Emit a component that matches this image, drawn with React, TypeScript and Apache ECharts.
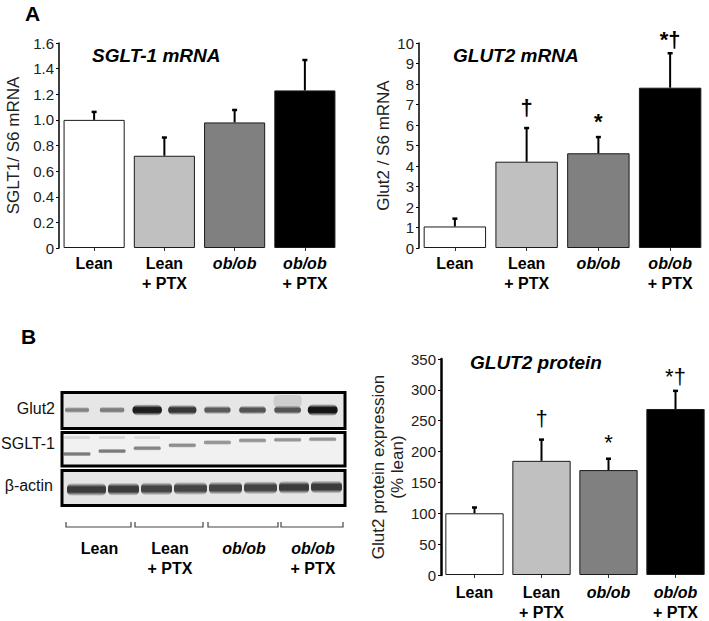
import React, { useEffect, useRef } from 'react';
import * as echarts from 'echarts';

// ---------- data ----------
const categories = ['Lean', 'Lean\n+ PTX', 'ob/ob', 'ob/ob\n+ PTX'];
const barColors = ['#ffffff', '#c0c0c0', '#808080', '#000000'];

const sgltMean = [1.0, 0.72, 0.98, 1.23];
const sgltErr = [0.07, 0.15, 0.105, 0.245];

const glut2Mean = [1.05, 4.21, 4.62, 7.82];
const glut2Err = [0.43, 1.69, 0.84, 1.73];
const glut2Marks = ['', '†', '*', '*†'];

const protMean = [100, 185, 170, 269];
const protErr = [11, 36, 20, 31];
const protMarks = ['', '†', '*', '*†'];

// western blot relative band intensities (8 lanes, 2 per group)
const glut2Band = [0.25, 0.3, 0.95, 0.8, 0.55, 0.6, 0.6, 1.0];
const sgltBand = [0.65, 0.65, 0.6, 0.55, 0.5, 0.5, 0.5, 0.5];
const sgltUpperBand = [0.18, 0.18, 0.15, 0, 0, 0, 0, 0];
const actinBand = [0.95, 0.95, 0.9, 0.9, 0.9, 0.9, 0.95, 0.95];
const blotRows = ['Glut2', 'SGLT-1', 'β-actin'];

const FONT = '"Liberation Sans", Arial, Helvetica, sans-serif';

const catLabel = (v: string) =>
  v
    .split('\n')
    .map((s) => (s.startsWith('ob/ob') ? `{i|${s}}` : `{b|${s}}`))
    .join('\n');

const richCat = {
  b: { fontSize: 16, fontWeight: 'bold', fontFamily: FONT, color: '#000', lineHeight: 20 },
  i: { fontSize: 16, fontWeight: 'bold', fontStyle: 'italic', fontFamily: FONT, color: '#000', lineHeight: 20 },
};

function makeXAxis(gridIndex: number, margin: number) {
  return {
    type: 'category',
    gridIndex,
    data: categories,
    axisLine: { show: false },
    axisTick: { show: true, alignWithLabel: true, length: 3, lineStyle: { color: '#333', width: 1 } },
    axisLabel: { interval: 0, margin, formatter: catLabel, rich: richCat },
    splitLine: { show: false },
  };
}

function makeYAxis(
  gridIndex: number,
  max: number,
  interval: number,
  name: string,
  nameGap: number,
  lineWidth: number,
  fmt: (v: number) => string,
  nameFontSize: number,
  nameLineHeight?: number
) {
  return {
    type: 'value',
    gridIndex,
    min: 0,
    max,
    interval,
    name,
    nameLocation: 'middle',
    nameRotate: 90,
    nameGap,
    nameTextStyle: { fontSize: nameFontSize, fontFamily: FONT, color: '#222', lineHeight: nameLineHeight },
    axisLine: { show: true, lineStyle: { color: '#000', width: lineWidth } },
    axisTick: { show: true, length: 3, lineStyle: { color: '#000', width: 1 } },
    axisLabel: { fontSize: 15, fontFamily: FONT, color: '#222', margin: 5, formatter: fmt },
    splitLine: { show: false },
  };
}

function barSeries(idx: number, means: number[]) {
  return {
    type: 'bar',
    xAxisIndex: idx,
    yAxisIndex: idx,
    barCategoryGap: '13%',
    z: 2,
    data: means.map((v, i) => ({
      value: v,
      itemStyle: { color: barColors[i], borderColor: '#1a1a1a', borderWidth: 1 },
    })),
  };
}

function errSeries(idx: number, means: number[], errs: number[], marks: string[] | null, markWeight: string) {
  return {
    type: 'custom',
    xAxisIndex: idx,
    yAxisIndex: idx,
    z: 5,
    encode: { x: 0, y: 1 },
    data: means.map((m, i) => [i, m, errs[i]]),
    renderItem: (params: any, api: any) => {
      const i = api.value(0);
      const m = api.value(1);
      const e = api.value(2);
      const base = api.coord([i, m]);
      const top = api.coord([i, m + e]);
      const children: any[] = [
        {
          type: 'line',
          shape: { x1: base[0], y1: base[1], x2: top[0], y2: top[1] + 1 },
          style: { stroke: '#000', lineWidth: 2 },
        },
        {
          type: 'line',
          shape: { x1: top[0] - 2.5, y1: top[1] + 1, x2: top[0] + 2.5, y2: top[1] + 1 },
          style: { stroke: '#000', lineWidth: 2.5 },
        },
      ];
      const mk = marks ? marks[params.dataIndex] : '';
      if (mk) {
        const off = mk.length > 1 ? 2 : mk === '*' ? 4 : 9;
        children.push({
          type: 'text',
          style: {
            text: mk,
            x: top[0],
            y: top[1] - off,
            align: 'center',
            verticalAlign: 'bottom',
            fontSize: 22,
            fontWeight: markWeight,
            fontFamily: FONT,
            fill: '#000',
          },
        });
      }
      return { type: 'group', children };
    },
  };
}

// ---------- western blot drawing ----------
function buildBlot(): any[] {
  const els: any[] = [];
  const left = 62;
  const width = 283;
  const panels = [
    { y: 392.5, h: 36, fill: '#e6e6e6' },
    { y: 432.5, h: 33.5, fill: '#f1f1f1' },
    { y: 470.5, h: 35, fill: '#e5e5e5' },
  ];
  panels.forEach((p) =>
    els.push({
      type: 'rect',
      z: 1,
      shape: { x: left, y: p.y, width, height: p.h },
      style: { fill: p.fill, stroke: 'none' },
    })
  );
  const grad = (g: number, a: number) => ({
    type: 'linear',
    x: 0,
    y: 0,
    x2: 0,
    y2: 1,
    colorStops: [
      { offset: 0, color: `rgba(${g},${g},${g},0)` },
      { offset: 0.3, color: `rgba(${g},${g},${g},${a})` },
      { offset: 0.7, color: `rgba(${g},${g},${g},${a})` },
      { offset: 1, color: `rgba(${g},${g},${g},0)` },
    ],
  });
  const band = (cx: number, cy: number, w: number, h: number, g: number, a: number) => ({
    type: 'rect',
    z: 3,
    shape: { x: cx - w / 2, y: cy - h / 2, width: w, height: h, r: h / 2 },
    style: { fill: grad(g, a) },
  });
  const laneX = (i: number) => 77 + i * 35.1;
  // smudge above lane 7
  els.push({
    type: 'rect',
    z: 2,
    shape: { x: laneX(6) - 14, y: 395, width: 28, height: 12, r: 4 },
    style: { fill: 'rgba(150,150,150,0.3)' },
  });
  glut2Band.forEach((v, i) => {
    const w = 22 + 8 * v;
    const h = 4 + 8 * v;
    els.push(band(laneX(i), 410, w, h, Math.round(110 - 90 * v), 0.6 + 0.4 * v));
  });
  sgltBand.forEach((v, i) => {
    const cy = 454 - 13 * Math.min(1, i / 4.5) - (i > 4 ? (i - 4) * 0.6 : 0);
    els.push(band(laneX(i), cy, 27, 5, 60, v));
  });
  sgltUpperBand.forEach((v, i) => {
    if (v > 0) els.push(band(laneX(i), 437.5, 26, 4, 90, v));
  });
  const actinEdges = [66, 107, 140, 173, 208, 243, 278, 310, 343];
  actinBand.forEach((v, i) => {
    const x1 = actinEdges[i];
    const x2 = actinEdges[i + 1];
    const cy = 489.5 - i * 0.35;
    els.push({
      type: 'rect',
      z: 3,
      shape: { x: x1 + 1, y: cy - 6.5, width: x2 - x1 - 2, height: 13, r: 5 },
      style: { fill: grad(50, v) },
    });
  });
  panels.forEach((p) =>
    els.push({
      type: 'rect',
      z: 6,
      shape: { x: left, y: p.y, width, height: p.h },
      style: { fill: 'none', stroke: '#000', lineWidth: 3 },
    })
  );
  const rowY = [408, 443, 485];
  const rowX = [55, 55, 53];
  blotRows.forEach((t, i) =>
    els.push({
      type: 'text',
      z: 6,
      style: {
        text: t,
        x: rowX[i],
        y: rowY[i],
        align: 'right',
        verticalAlign: 'middle',
        fontSize: 16,
        fontFamily: FONT,
        fill: '#111',
      },
    })
  );
  const brackets = [
    [66, 131],
    [135, 203],
    [208, 278],
    [281, 343],
  ];
  brackets.forEach(([a, b], i) => {
    els.push({
      type: 'polyline',
      z: 6,
      shape: {
        points: [
          [a, 522],
          [a, 527],
          [b, 527],
          [b, 522],
        ],
      },
      style: { stroke: '#444', lineWidth: 1.2, fill: 'none' },
    });
    els.push({
      type: 'text',
      z: 6,
      style: {
        text: catLabel(categories[i]),
        rich: richCat,
        x: (a + b) / 2 + 1,
        y: 538,
        align: 'center',
        verticalAlign: 'top',
      },
    });
  });
  return els;
}

export default function App() {
  const ref = useRef<HTMLDivElement>(null);
  useEffect(() => {
    if (!ref.current) return;
    const chart = echarts.init(ref.current, undefined, { renderer: 'svg' });
    const titleStyle = { fontSize: 19, fontWeight: 'bold', fontStyle: 'italic', fontFamily: FONT, color: '#000' };
    const option: any = {
      animation: false,
      backgroundColor: '#ffffff',
      title: [
        { text: 'A', left: 25, top: 3, padding: 0, textStyle: { fontSize: 21, fontWeight: 'bold', fontFamily: FONT, color: '#000' } },
        { text: 'B', left: 21, top: 326, padding: 0, textStyle: { fontSize: 21, fontWeight: 'bold', fontFamily: FONT, color: '#000' } },
        { text: 'SGLT-1 mRNA', left: 92, top: 46, padding: 0, textStyle: titleStyle },
        { text: 'GLUT2 mRNA', left: 453, top: 46, padding: 0, textStyle: titleStyle },
        { text: 'GLUT2 protein', left: 470, top: 353, padding: 0, textStyle: titleStyle },
      ],
      grid: [
        { left: 59, top: 43, width: 281, height: 205 },
        { left: 419, top: 43, width: 287, height: 205 },
        { left: 441, top: 359, width: 269, height: 216 },
      ],
      xAxis: [makeXAxis(0, 5), makeXAxis(1, 5), makeXAxis(2, 7)],
      yAxis: [
        makeYAxis(0, 1.6, 0.2, 'SGLT1/ S6 mRNA', 37, 1.5, (v) => (v === 0 ? '0' : v.toFixed(1)), 17),
        makeYAxis(1, 10, 1, 'Glut2 / S6 mRNA', 27, 1.5, (v) => String(v), 17),
        makeYAxis(2, 350, 50, 'Glut2 protein expression\n(% lean)', 30, 2.5, (v) => String(v), 17, 19),
      ],
      series: [
        barSeries(0, sgltMean),
        errSeries(0, sgltMean, sgltErr, null, 'bold'),
        barSeries(1, glut2Mean),
        errSeries(1, glut2Mean, glut2Err, glut2Marks, 'bold'),
        barSeries(2, protMean),
        errSeries(2, protMean, protErr, protMarks, 'normal'),
      ],
      graphic: buildBlot(),
    };
    chart.setOption(option);
    return () => chart.dispose();
  }, []);
  return (
    <div
      ref={ref}
      style={{ position: 'absolute', left: 0, top: 0, width: 709, height: 621, background: '#fff' }}
    />
  );
}
